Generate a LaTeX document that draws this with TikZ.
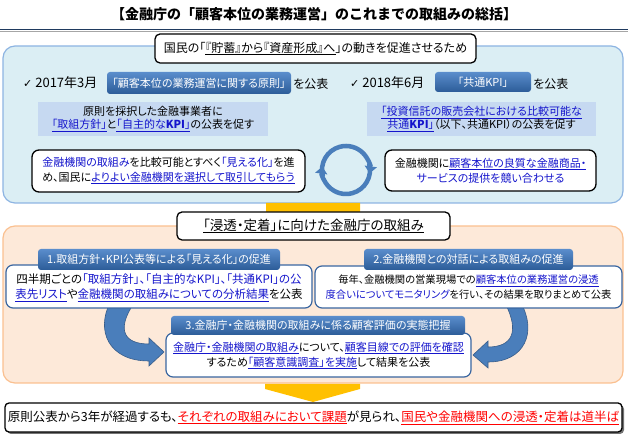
\documentclass[tikz,border=0pt]{standalone}
\usepackage{fontspec}
\setmainfont{Noto Sans CJK JP}[RawFeature=+palt]
\newfontfamily\fullfont{Noto Sans CJK JP}
\newfontfamily\symfont{DejaVu Sans}
\usepackage{tikz}
\usetikzlibrary{arrows.meta}
\definecolor{panelblue}{HTML}{DBEEF4}
\definecolor{panelblueline}{HTML}{8DB4E2}
\definecolor{noteblue}{HTML}{C6D9F1}
\definecolor{btntop}{HTML}{5A8DCC}
\definecolor{btnbot}{HTML}{2C5C98}
\definecolor{panelpeach}{HTML}{FDE9D9}
\definecolor{panelpeachline}{HTML}{FAC090}
\definecolor{boxline}{HTML}{3A66A0}
\definecolor{linkblue}{HTML}{1515CC}
\definecolor{chevron}{HTML}{FFC000}
\definecolor{arrowblue}{HTML}{4A7EBB}
\definecolor{arrowedge}{HTML}{385D8A}
\definecolor{titleline}{HTML}{1F3A5F}
\def\bl#1{\textcolor{linkblue}{#1}}
\def\ul#1{\textcolor{linkblue}{\underline{#1}}}
\def\rd#1{\textcolor{red}{\underline{#1}}}

\begin{document}
\begin{tikzpicture}[x=1pt,y=1pt,
	panelA/.style={draw=panelblueline, line width=1.2pt, fill=panelblue, rounded corners=12pt},
	panelB/.style={draw=panelpeachline, line width=1.2pt, fill=panelpeach, rounded corners=12pt},
	headbox/.style={draw=black, line width=1.3pt, fill=white, rounded corners=5pt},
	plainbox/.style={draw=black, line width=1.3pt, fill=white, rounded corners=7pt},
	blbox/.style={draw=boxline, line width=1.2pt, fill=white, rounded corners=7pt},
	tabbar/.style={top color=btntop, bottom color=btnbot, rounded corners=3pt},
	bendarrow/.style={fill=arrowblue, draw=arrowedge, line width=0.6pt},
	cyc/.style={draw=arrowblue, line width=4.5pt, -{Triangle[length=7pt,width=12pt]}},
	body/.style={font=\fontsize{11}{15}\selectfont, align=center, inner sep=0pt},
	small/.style={font=\fontsize{11}{13}\selectfont, align=center, inner sep=0pt},
	tabtext/.style={font=\fontsize{11}{13}\selectfont, text=white, inner sep=0pt}]
	%%%%% START %%%%%
	\useasboundingbox (0,0) rectangle (628,435);
	
	\node[font=\fullfont\fontsize{14}{16}\selectfont\bfseries] (title) at (314,421) {【金融庁の「顧客本位の業務運営」のこれまでの取組みの総括】};
	\draw[line width=1.2pt, color=black!35] (0,403.5) -- (628,403.5);
	\draw[line width=1.6pt, color=titleline] (0,405.5) -- (628,405.5);
	
	% upper panel
	\draw[panelA] (3,232) rectangle (623,389);
	\draw[headbox] (155,372) rectangle (476,401);
	\node[font=\fontsize{12}{14}\selectfont, inner sep=0pt] (aim) at (315.5,386.5) {国民の「\underline{『貯蓄』から『資産形成』へ}」の動きを促進させるため};
	
	\node[anchor=west, font=\fontsize{13}{15}\selectfont, inner sep=0pt] (chkA) at (23,352) {{\symfont\fontsize{11}{13}\selectfont ✓} 2017年3月};
	\shade[tabbar] (107,341) rectangle (291,363);
	\node[tabtext] (ruleA) at (199,352) {「顧客本位の業務運営に関する原則」};
	\node[anchor=west, font=\fontsize{12}{14}\selectfont, inner sep=0pt] (pubA) at (293,351) {を公表};
	
	\node[anchor=west, font=\fontsize{13}{15}\selectfont, inner sep=0pt] (chkB) at (350,352) {{\symfont\fontsize{11}{13}\selectfont ✓} 2018年6月};
	\shade[tabbar] (435,343) rectangle (531,363);
	\node[tabtext] (kpiB) at (483,353) {「共通KPI」};
	\node[anchor=west, font=\fontsize{12}{14}\selectfont, inner sep=0pt] (pubB) at (533,351) {を公表};
	
	\fill[noteblue] (38,299) rectangle (268,333);
	\node[small] (noteA) at (153,316) {原則を採択した金融事業者に\\\ul{「取組方針」}と\ul{「自主的な\textbf{KPI}」}の公表を促す};
	\fill[noteblue] (367,299) rectangle (596,333);
	\node[small] (noteB) at (481.5,316) {\ul{「投資信託の販売会社における比較可能な}\\\ul{共通\textbf{KPI}」}（以下、共通KPI）の公表を促す};
	
	\draw[plainbox] (32,243) rectangle (305,285);
	\node[body] (seeA) at (168.5,264.5) {\bl{金融機関の取組み}を比較可能とすべく\bl{「見える化」}を進\\め、国民に\ul{よりよい金融機関を選択して取引してもらう}};
	\draw[plainbox] (385,244) rectangle (596,285);
	\node[body] (rivalB) at (490.5,264.5) {金融機関に\ul{顧客本位の良質な金融商品・}\\\bl{サービスの提供を競い合わせる}};
	
	\draw[cyc] (346,265) ++(195:24) arc (195:-8:24);
	\draw[cyc] (346,265) ++(15:24) arc (15:-188:24);
	
	% lower panel
	\draw[panelB] (3,52) rectangle (623,209);
	\fill[chevron] (266,232) -- (360,232) -- (360,220) -- (313,207) -- (266,220) -- cycle;
	\draw[headbox] (177,195) rectangle (450,223);
	\node[font=\fontsize{13.5}{15}\selectfont, inner sep=0pt] (fixA) at (313.5,209) {\underline{「浸透・定着」に向けた金融庁の取組み}};
	
	\draw[bendarrow] (110,132) .. controls (96,105) and (108,74) .. (149,74) -- (149,69) -- (164,83) -- (149,97) -- (149,91) .. controls (124,91) and (116,105) .. (134,132) -- cycle;
	\draw[bendarrow] (521,132) .. controls (537,103) and (525,73) .. (488,73) -- (488,67) -- (473,80) -- (488,94) -- (488,88) .. controls (512,88) and (520,103) .. (505,132) -- cycle;
	
	\draw[blbox] (6,127) rectangle (312,170);
	\shade[tabbar] (38,165) rectangle (280,186);
	\node[tabtext] (tabA) at (159,175.5) {1.取組方針・KPI公表等による「見える化」の促進};
	\node[body, font=\fontsize{11.5}{15}\selectfont] (listA) at (159,147.5) {四半期ごとの\bl{「取組方針」、「自主的なKPI」、「共通KPI」の公}\\\ul{表先リスト}や\ul{金融機関の取組みについての分析結果}を公表};
	
	\draw[blbox] (315,127) rectangle (622,169);
	\shade[tabbar] (364,165) rectangle (573,186);
	\node[tabtext] (tabB) at (468.5,175.5) {2.金融機関との対話による取組みの促進};
	\node[body, font=\fontsize{10.3}{15}\selectfont] (visitB) at (468.5,147.5) {毎年、金融機関の営業現場での\ul{顧客本位の業務運営の浸透}\\\bl{度合いについてモニタリング}を行い、その結果を取りまとめて公表};
	
	\draw[blbox] (166,58) rectangle (471,102);
	\shade[tabbar] (171,100) rectangle (465,119);
	\node[tabtext] (tabC) at (318,109.5) {3.金融庁・金融機関の取組みに係る顧客評価の実態把握};
	\node[body] (surveyC) at (318.5,79.5) {\ul{金融庁・金融機関の取組み}について、\ul{顧客目線での評価を確認}\\するため\ul{「顧客意識調査」を実施}して結果を公表};
	
	% result
	\fill[chevron] (265,51) -- (360,51) -- (360,46) -- (313,33) -- (265,46) -- cycle;
	\fill[black!55, rounded corners=4pt] (7,1) rectangle (624,30);
	\draw[plainbox, rounded corners=4pt] (5,3) rectangle (622,32);
	\node[font=\fontsize{12.5}{15}\selectfont, inner sep=0pt] (verdict) at (313.5,17.5) {原則公表から3年が経過するも、\rd{それぞれの取組みにおいて課題}が見られ、\rd{国民や金融機関への浸透・定着は道半ば}};
	
	%%%%% END %%%%%
\end{tikzpicture}
\end{document}
